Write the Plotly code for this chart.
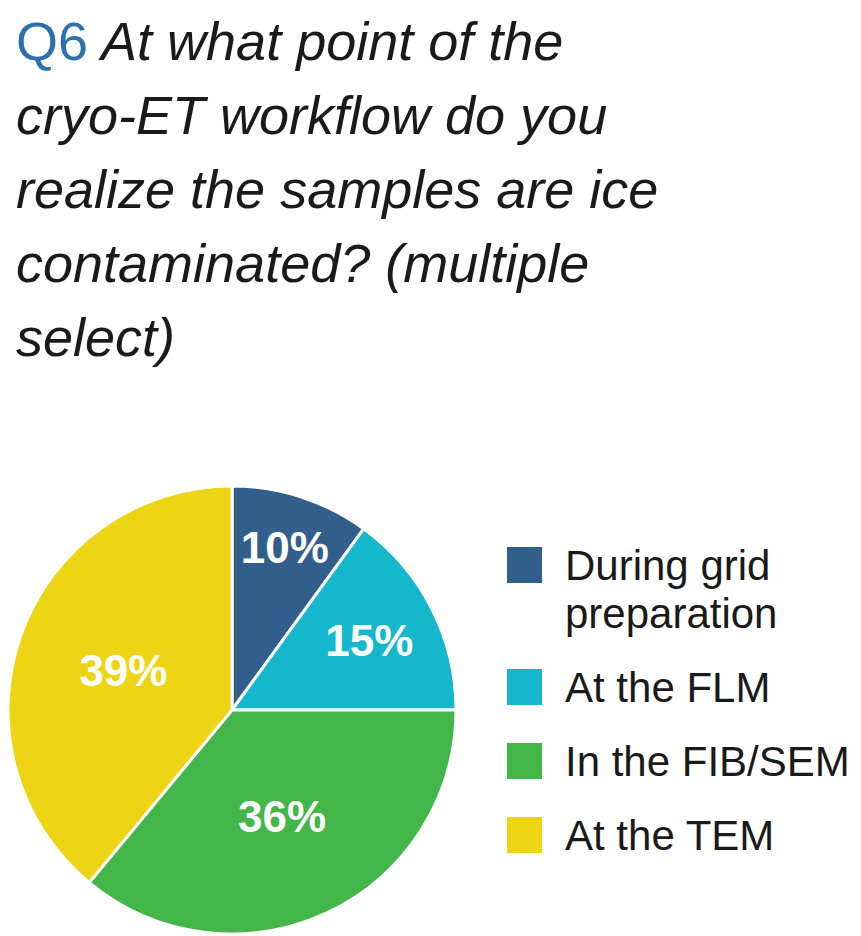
import plotly.graph_objects as go

# survey answers (percent of respondents)
labels = ["During grid preparation", "At the FLM", "In the FIB/SEM", "At the TEM"]
values = [10, 15, 36, 39]
colors = ["#325E8C", "#14B7CC", "#43B649", "#EDD515"]

# legend text, broken the same way as the reference
legend_text = [["During grid", "preparation"], ["At the FLM"], ["In the FIB/SEM"], ["At the TEM"]]

title_lines = [
    "<span style='font-style:normal;color:#2C70B0'>Q6</span> At what point of the",
    "cryo-ET workflow do you",
    "realize the samples are ice",
    "contaminated? (multiple",
    "select)",
]

# the page body adds an 8px margin, so work in page pixels and shift back
OFF = 8
W, H = 861 - OFF, 936 - OFF
FONT = "Liberation Sans, Arial, sans-serif"


def px(x):
    return (x - OFF) / W


def py(y):
    return 1 - (y - OFF) / H


fig = go.Figure()
fig.add_trace(go.Pie(
    labels=labels,
    values=values,
    sort=False,
    direction="clockwise",
    rotation=0,
    marker=dict(colors=colors, line=dict(color="white", width=3)),
    texttemplate="%{value}%",
    textposition="inside",
    insidetextorientation="horizontal",
    insidetextfont=dict(family=FONT, size=44, color="white", weight="bold"),
    domain=dict(x=[px(8), px(456)], y=[py(934), py(486)]),
    showlegend=False,
    hoverinfo="label+percent",
))

annotations = []
shapes = []

# title, one annotation per line to keep the tight line spacing
for i, line in enumerate(title_lines):
    annotations.append(dict(
        text=line, x=px(14), y=py(41 + i * 74),
        xref="paper", yref="paper", xanchor="left", yanchor="middle",
        showarrow=False,
        font=dict(family=FONT, size=54, color="#1a1a1a", style="italic"),
    ))

# legend drawn by hand so the colour boxes can be as big as in the picture
y = 565
for lines, col in zip(legend_text, colors):
    shapes.append(dict(
        type="rect", xref="paper", yref="paper",
        x0=px(507), x1=px(542), y0=py(y - 18), y1=py(y + 18),
        fillcolor=col, line=dict(width=0),
    ))
    for j, txt in enumerate(lines):
        annotations.append(dict(
            text=txt, x=px(563), y=py(y + j * 48),
            xref="paper", yref="paper", xanchor="left", yanchor="middle",
            showarrow=False,
            font=dict(family=FONT, size=42, color="#1a1a1a"),
        ))
    y += 74 + 48 * (len(lines) - 1)

fig.update_layout(
    width=W, height=H,
    margin=dict(l=0, r=0, t=0, b=0),
    paper_bgcolor="white",
    plot_bgcolor="white",
    annotations=annotations,
    shapes=shapes,
)

fig.write_html("out.html")
